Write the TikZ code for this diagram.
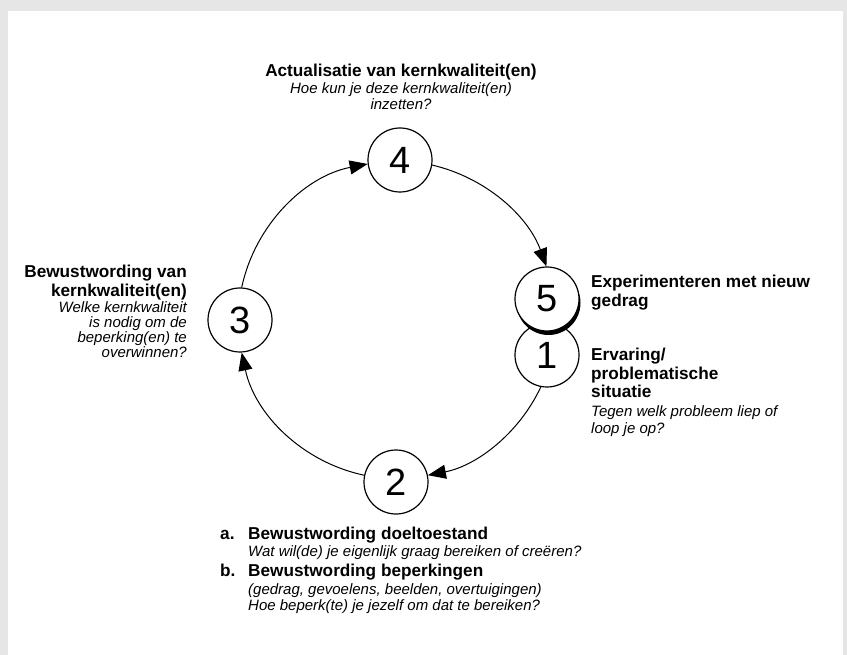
\documentclass[tikz,border=0pt]{standalone}
\usepackage{fontspec}
\setmainfont{Liberation Sans}
\usetikzlibrary{arrows.meta,shadows}

\definecolor{framegray}{HTML}{E6E6E6}

\tikzset{
  phase/.style={circle, draw, fill=white, line width=1.2pt, minimum size=64pt,
    inner sep=0pt, font=\fontsize{38}{40}\selectfont},
  flow/.style={line width=1pt, -{Triangle[length=18pt,width=14pt]}},
  head/.style={font=\fontsize{17.2}{19}\selectfont\bfseries, inner sep=0pt},
  ask/.style={font=\fontsize{15}{16}\selectfont\itshape, inner sep=0pt},
}

\begin{document}
\begin{tikzpicture}[x=1pt,y=1pt]
  % frame
  \fill[framegray] (0,0) rectangle (847,-655);
  \useasboundingbox (0,0) rectangle (847,-655);
  \fill[white] (8,-11) rectangle (843,-655);

  % phases
  \node[phase] (p4) at (400,-160) {4};
  \node[phase] (p3) at (240,-320) {3};
  \node[phase] (p2) at (396,-482) {2};
  \node[phase] (p1) at (547,-355) {1};
  \node[phase, drop shadow={shadow xshift=1.5pt, shadow yshift=-4pt,
    fill=black, opacity=1}] (p5) at (547,-299) {5};

  % cycle (pieces of one circle)
  \draw[flow] (p3.87) to[out=78, in=191, looseness=0.93] (p4.187);
  \draw[flow] (p4.-9.5) to[out=-13, in=110, looseness=0.91] (p5.91);
  \draw[flow] (p1.259) to[out=245, in=11, looseness=0.9] (p2.12);
  \draw[flow] (p2.168) to[out=168, in=-78, looseness=0.93] (p3.273);

  % phase 4
  \node[head, anchor=base] (t4) at (401,-77) {Actualisatie van kernkwaliteit(en)};
  \foreach \txt [count=\i] in {Hoe kun je deze kernkwaliteit(en), inzetten?}
    \node[ask, anchor=base] (q4-\i) at (401,{-94-16*(\i-1)}) {\txt};

  % phase 3
  \foreach \txt [count=\i] in {Bewustwording van, kernkwaliteit(en)}
    \node[head, anchor=base east] (t3-\i) at (187,{-278-19*(\i-1)}) {\txt};
  \foreach \txt [count=\i] in {Welke kernkwaliteit, is nodig om de, beperking(en) te, overwinnen?}
    \node[ask, anchor=base east] (q3-\i) at (187,{-313-15*(\i-1)}) {\txt};

  % phase 5
  \foreach \txt [count=\i] in {Experimenteren met nieuw, gedrag}
    \node[head, anchor=base west] (t5-\i) at (591,{-288-18.5*(\i-1)}) {\txt};

  % phase 1
  \foreach \txt [count=\i] in {Ervaring/, problematische, situatie}
    \node[head, anchor=base west] (t1-\i) at (591,{-361-18.5*(\i-1)}) {\txt};
  \foreach \txt [count=\i] in {Tegen welk probleem liep of, loop je op?}
    \node[ask, anchor=base west] (q1-\i) at (591,{-416-17*(\i-1)}) {\txt};

  % phase 2
  \node[head, anchor=base west] (a) at (220,-539) {a.};
  \node[head, anchor=base west] (t2a) at (248,-539) {Bewustwording doeltoestand};
  \node[ask, anchor=base west] (q2a) at (248,-556) {Wat wil(de) je eigenlijk graag bereiken of creëren?};
  \node[head, anchor=base west] (b) at (220,-576) {b.};
  \node[head, anchor=base west] (t2b) at (248,-576) {Bewustwording beperkingen};
  \foreach \txt [count=\i] in {{(gedrag, gevoelens, beelden, overtuigingen)}, Hoe beperk(te) je jezelf om dat te bereiken?}
    \node[ask, anchor=base west] (q2b-\i) at (248,{-594-16*(\i-1)}) {\txt};
\end{tikzpicture}
\end{document}
